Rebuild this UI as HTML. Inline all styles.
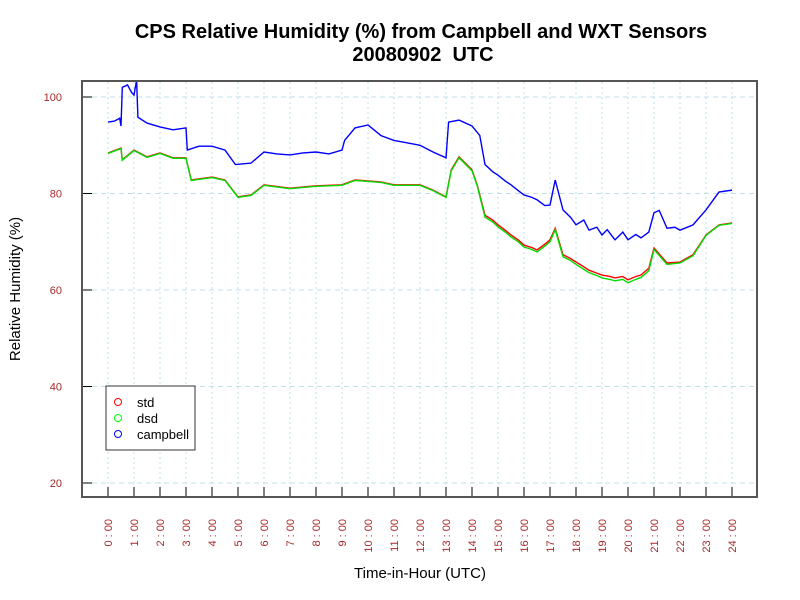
<!DOCTYPE html>
<html><head><meta charset="utf-8"><style>body{margin:0;background:#fff}svg{display:block;font-family:"Liberation Sans",sans-serif}</style></head><body>
<svg id="chart" width="800" height="600">
<text x="421" y="38" text-anchor="middle" font-size="20" font-weight="bold">CPS Relative Humidity (%) from Campbell and WXT Sensors</text>
<text x="423" y="61" text-anchor="middle" font-size="20" font-weight="bold">20080902&#160; UTC</text>
<text transform="translate(20,289) rotate(-90)" text-anchor="middle" font-size="15">Relative Humidity (%)</text>
<text x="420" y="578" text-anchor="middle" font-size="15">Time-in-Hour (UTC)</text>
<g id="grid"></g><g id="series"></g><g id="axes"></g>
<rect x="82" y="81" width="675" height="416" fill="none" stroke="#555" stroke-width="2"/>
<g>
<rect x="106" y="386" width="89" height="64" fill="#fff" stroke="#333"/>
<circle cx="118" cy="402" r="3.5" fill="none" stroke="#f00"/>
<text x="137" y="407" font-size="13">std</text>
<circle cx="118" cy="418" r="3.5" fill="none" stroke="#0f0"/>
<text x="137" y="423" font-size="13">dsd</text>
<circle cx="118" cy="434" r="3.5" fill="none" stroke="#00f"/>
<text x="137" y="439" font-size="13">campbell</text>
</g>
</svg>
<script>
const yTicks=[20,40,60,80,100];
const xTickLabels=['0 : 00','1 : 00','2 : 00','3 : 00','4 : 00','5 : 00','6 : 00','7 : 00','8 : 00','9 : 00','10 : 00','11 : 00','12 : 00','13 : 00','14 : 00','15 : 00','16 : 00','17 : 00','18 : 00','19 : 00','20 : 00','21 : 00','22 : 00','23 : 00','24 : 00'];
const campHours=[0,0.25,0.45,0.5,0.55,0.75,0.9,1.0,1.1,1.15,1.5,2.0,2.5,3.0,3.05,3.5,4.0,4.5,4.9,5.5,6.0,6.5,7.0,7.5,8.0,8.5,9.0,9.1,9.5,10,10.5,11,11.5,12,12.5,13,13.1,13.5,14,14.3,14.5,14.8,15,15.3,15.5,15.8,16,16.3,16.5,16.8,17,17.2,17.5,17.8,18,18.3,18.5,18.8,19,19.2,19.5,19.8,20,20.3,20.5,20.8,21,21.2,21.5,21.8,22,22.5,23,23.5,24];
const campbell=[94.8,95,95.6,94,102,102.5,101,100.4,103.5,95.8,94.6,93.8,93.2,93.6,89,89.8,89.8,89,86,86.3,88.6,88.2,88,88.4,88.6,88.2,89,91,93.6,94.2,92,91,90.5,90,88.6,87.4,94.8,95.2,94,92,86,84.5,83.8,82.5,81.8,80.5,79.7,79.2,78.7,77.5,77.6,82.8,76.6,75,73.5,74.5,72.4,73,71.4,72.5,70.4,72,70.4,71.5,70.8,72,76,76.5,72.8,73,72.4,73.5,76.6,80.3,80.7];
const stdHours=[0,0.5,0.55,1.0,1.5,2.0,2.5,3.0,3.2,4.0,4.5,5.0,5.5,6.0,7.0,8.0,9.0,9.5,10.5,11,12,12.5,13,13.2,13.5,14,14.2,14.5,14.8,15,15.3,15.5,15.8,16,16.3,16.5,16.8,17,17.2,17.5,17.8,18,18.3,18.5,18.8,19,19.3,19.5,19.8,20,20.3,20.5,20.8,21,21.5,22,22.5,23,23.5,24];
const std=[88.4,89.4,87,89,87.6,88.4,87.4,87.4,82.8,83.4,82.8,79.3,79.7,81.8,81.1,81.6,81.8,82.8,82.4,81.8,81.8,80.7,79.3,84.9,87.6,84.9,81.8,75.5,74.5,73.5,72.3,71.4,70.3,69.3,68.8,68.3,69.5,70.4,72.8,67.3,66.5,65.8,64.8,64.1,63.5,63.1,62.8,62.5,62.8,62.1,62.8,63.1,64.5,68.7,65.6,65.8,67.3,71.4,73.5,73.9];
const dsd=[88.3,89.3,86.9,88.9,87.5,88.3,87.3,87.3,82.7,83.3,82.7,79.2,79.6,81.7,81,81.5,81.7,82.7,82.3,81.7,81.7,80.6,79.2,84.7,87.4,84.7,81.6,75.1,74.1,73.1,71.9,71,69.9,68.9,68.4,67.9,69.1,70,72.5,66.9,66.1,65.3,64.3,63.6,63,62.5,62.2,61.9,62.2,61.5,62.2,62.6,64,68.4,65.3,65.6,67.1,71.3,73.4,73.8];
const X=h=>108+h*26, Y=v=>97+(100-v)*4.825;
const NS='http://www.w3.org/2000/svg';
function mk(t,p,a){const e=document.createElementNS(NS,t);for(const k in a)e.setAttribute(k,a[k]);p.appendChild(e);return e;}
const grid=document.getElementById('grid'),axes=document.getElementById('axes'),ser=document.getElementById('series');
yTicks.forEach(v=>{
 const g=mk('line',grid,{x1:83,x2:756,y1:Y(v),y2:Y(v),stroke:'#bfe0ea','stroke-dasharray':'5,4'});
 
 
 const t=mk('line',axes,{x1:83,x2:92,y1:Y(v),y2:Y(v),stroke:'#000'});
 
 
 const l=mk('text',axes,{x:62,y:Y(v)+4,'text-anchor':'end','font-size':'11',fill:'#a52a2a'});
 l.textContent=v;
 
 
});
xTickLabels.forEach((s,i)=>{
 const g=mk('line',grid,{x1:X(i),x2:X(i),y1:82,y2:496,stroke:'#bfe0ea','stroke-dasharray':'2,3'});
 
 
 const t=mk('line',axes,{x1:X(i),x2:X(i),y1:487,y2:496,stroke:'#000'});
 
 
 const l=mk('text',axes,{transform:`translate(${X(i)+4},519) rotate(-90)`,'text-anchor':'end','font-size':'11',fill:'#a52a2a'});
 l.textContent=s;
 
 
});
function line(hs,vs,c,n){
 const p=mk('polyline',ser,{points:hs.map((h,i)=>X(h)+','+Y(vs[i])).join(' '),fill:'none',stroke:c,'stroke-width':1.4});
 
 
}
line(stdHours,std,'#f00','std-line');
line(stdHours,dsd,'#0d0','dsd-line');
line(campHours,campbell,'#00f','campbell-line');
</script>
</body></html>
